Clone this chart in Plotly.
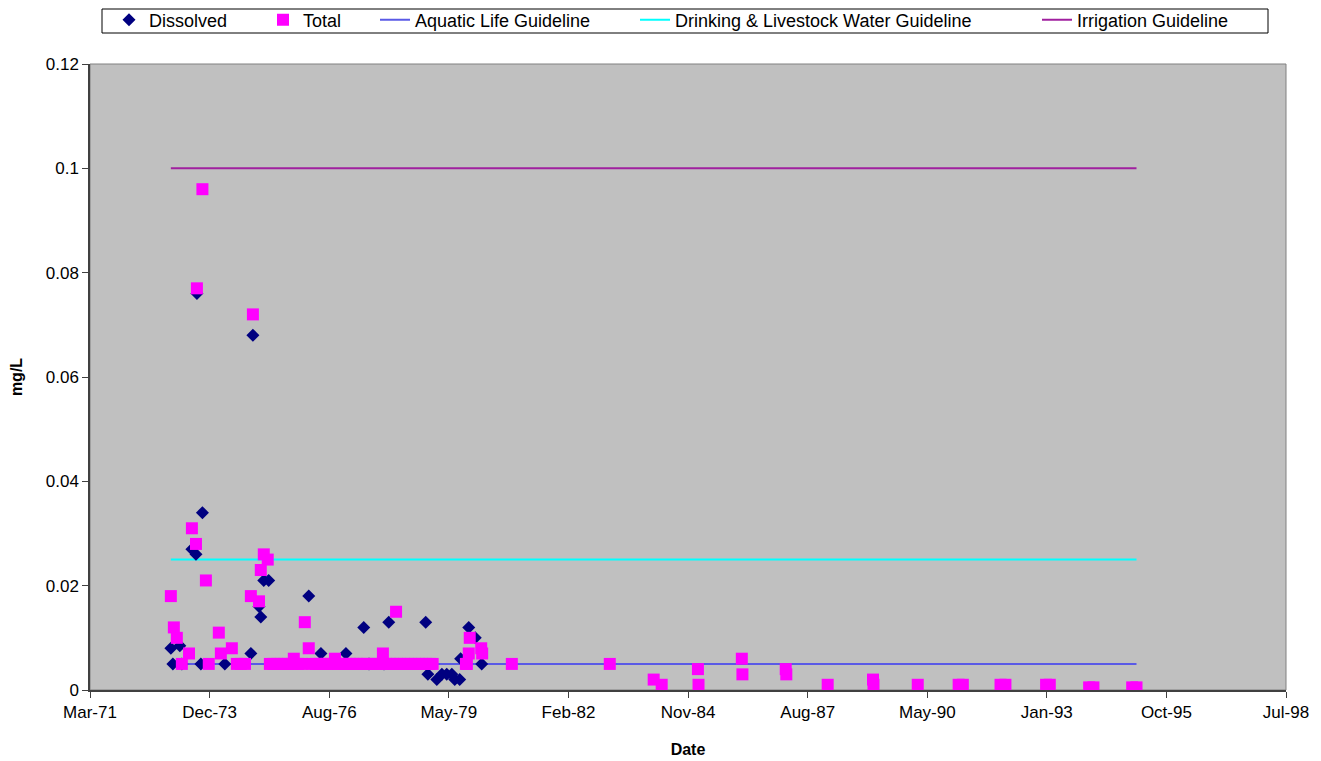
import plotly.graph_objects as go

# ---------------- data ----------------
tick_dates = ["1971-03-08", "1973-12-02", "1976-08-29", "1979-05-25", "1982-02-19",
              "1984-11-15", "1987-08-12", "1990-05-08", "1993-01-31", "1995-10-28", "1998-07-24"]
tick_labels = ["Mar-71", "Dec-73", "Aug-76", "May-79", "Feb-82",
               "Nov-84", "Aug-87", "May-90", "Jan-93", "Oct-95", "Jul-98"]
y_ticks = [0, 0.02, 0.04, 0.06, 0.08, 0.1, 0.12]
y_tick_labels = ["0", "0.02", "0.04", "0.06", "0.08", "0.1", "0.12"]

dissolved_dates = ["1973-01-12", "1973-01-29", "1973-03-28", "1973-04-14", "1973-07-07",
                   "1973-08-10", "1973-08-18", "1973-09-20", "1973-10-03", "1974-04-08",
                   "1974-11-12", "1974-11-29", "1975-01-19", "1975-02-03", "1975-02-28",
                   "1975-04-10", "1976-03-10", "1976-06-20", "1977-01-15", "1977-06-13",
                   "1977-07-27", "1977-11-29", "1978-01-08", "1978-11-13", "1978-12-01",
                   "1979-02-14", "1979-03-28", "1979-05-08", "1979-06-19", "1979-07-14",
                   "1979-08-24", "1979-09-01", "1979-11-08", "1980-01-01", "1980-02-24"]
dissolved_values = [0.008, 0.005, 0.0085, 0.005, 0.027,
                    0.026, 0.076, 0.005, 0.034, 0.005,
                    0.007, 0.068, 0.016, 0.014, 0.021,
                    0.021, 0.018, 0.007, 0.007, 0.012,
                    0.005, 0.005, 0.013, 0.013, 0.003,
                    0.002, 0.003, 0.003, 0.003, 0.002,
                    0.002, 0.006, 0.012, 0.010, 0.005]

total_dates = ["1973-01-12", "1973-02-06", "1973-03-03", "1973-04-14", "1973-06-13",
               "1973-07-07", "1973-08-10", "1973-08-18", "1973-10-03", "1973-11-01",
               "1973-11-25", "1974-02-17", "1974-03-06", "1974-06-06", "1974-07-18",
               "1974-08-21", "1974-09-24", "1974-11-12", "1974-11-29", "1975-01-19",
               "1975-02-03", "1975-02-28", "1975-04-02", "1975-04-20", "1975-05-20",
               "1975-06-20", "1975-07-20", "1975-08-20", "1975-09-20", "1975-10-20",
               "1975-11-06", "1975-12-10", "1976-01-10", "1976-02-06", "1976-03-10",
               "1976-04-10", "1976-05-10", "1976-06-10", "1976-07-10", "1976-08-10",
               "1976-09-10", "1976-10-15", "1976-11-15", "1976-12-15", "1977-01-15",
               "1977-02-15", "1977-03-15", "1977-04-15", "1977-05-15", "1977-06-15",
               "1977-07-08", "1977-08-20", "1977-09-20", "1977-10-20", "1977-11-20",
               "1977-12-18", "1978-01-15", "1978-02-15", "1978-03-10", "1978-03-15",
               "1978-04-15", "1978-05-15", "1978-06-15", "1978-07-15", "1978-08-15",
               "1978-09-15", "1978-10-15", "1978-11-15", "1978-12-15", "1979-01-10",
               "1979-10-15", "1979-10-23", "1979-11-08", "1979-11-16", "1980-02-20",
               "1980-02-28", "1980-11-02", "1983-01-30", "1984-02-01", "1984-04-08",
               "1985-02-05", "1985-02-10", "1986-02-07", "1986-02-12", "1987-02-09",
               "1987-02-14", "1988-01-26", "1989-02-08", "1989-02-12", "1990-02-17",
               "1991-01-25", "1991-03-01", "1992-01-10", "1992-02-20", "1993-01-25",
               "1993-02-25", "1994-01-20", "1994-02-25", "1995-01-15", "1995-02-20"]
total_values = [0.018, 0.012, 0.010, 0.005, 0.007,
                0.031, 0.028, 0.077, 0.096, 0.021,
                0.005, 0.011, 0.007, 0.008, 0.005,
                0.005, 0.005, 0.018, 0.072, 0.017,
                0.023, 0.026, 0.025, 0.005, 0.005,
                0.005, 0.005, 0.005, 0.005, 0.005,
                0.006, 0.005, 0.005, 0.013, 0.008,
                0.005, 0.005, 0.005, 0.005, 0.005,
                0.005, 0.006, 0.005, 0.005, 0.005,
                0.005, 0.005, 0.005, 0.005, 0.005,
                0.005, 0.005, 0.005, 0.005, 0.007,
                0.005, 0.005, 0.005, 0.015, 0.005,
                0.005, 0.005, 0.005, 0.005, 0.005,
                0.005, 0.005, 0.005, 0.005, 0.005,
                0.005, 0.005, 0.007, 0.010, 0.008,
                0.007, 0.005, 0.005, 0.002, 0.001,
                0.004, 0.001, 0.006, 0.003, 0.004,
                0.003, 0.001, 0.002, 0.001, 0.001,
                0.001, 0.001, 0.001, 0.001, 0.001,
                0.001, 0.0005, 0.0005, 0.0005, 0.0005]

guideline_dates = ["1973-01-12", "1995-02-20"]
aquatic_life = [0.005, 0.005]
drinking_livestock = [0.025, 0.025]
irrigation = [0.1, 0.1]

# ---------------- figure ----------------
FONT = "Liberation Sans, Arial, sans-serif"
fig = go.Figure()

fig.add_trace(go.Scatter(x=guideline_dates, y=aquatic_life, mode="lines",
                         name="Aquatic Life Guideline", line=dict(color="#5A5AE6", width=2),
                         legend="legend3"))
fig.add_trace(go.Scatter(x=guideline_dates, y=drinking_livestock, mode="lines",
                         name="Drinking & Livestock Water Guideline",
                         line=dict(color="#00FFFF", width=2), legend="legend4"))
fig.add_trace(go.Scatter(x=guideline_dates, y=irrigation, mode="lines",
                         name="Irrigation Guideline", line=dict(color="#A0209F", width=2),
                         legend="legend5"))
fig.add_trace(go.Scatter(x=dissolved_dates, y=dissolved_values, mode="markers",
                         name="Dissolved",
                         marker=dict(symbol="diamond", size=10, color="#000080", line=dict(width=0)),
                         legend="legend"))
fig.add_trace(go.Scatter(x=total_dates, y=total_values, mode="markers",
                         name="Total",
                         marker=dict(symbol="square", size=12, color="#FF00FF", line=dict(width=0)),
                         legend="legend2"))

# page body adds an 8px offset; target plot box in window pixels: x 90..1286, y 64..690
OFF = 8
W, H = 1321 - OFF, 761 - OFF
L, T = 90 - OFF, 64 - OFF
R, B = W - (1286 - OFF), H - (690 - OFF)
pw, ph = W - L - R, H - T - B


def px_x(p):
    return (p - OFF - L) / pw


def px_y(p):
    return 1 + (T - (p - OFF)) / ph


leg_common = dict(orientation="h", yanchor="middle", y=px_y(20), xanchor="left",
                  bgcolor="rgba(0,0,0,0)", borderwidth=0,
                  font=dict(family=FONT, size=18, color="black"))
legend_x = {"legend": 109, "legend2": 263, "legend3": 375, "legend4": 635, "legend5": 1037}
layout_legends = {k: dict(leg_common, x=px_x(v)) for k, v in legend_x.items()}

fig.update_layout(
    width=W, height=H,
    margin=dict(l=L, r=R, t=T, b=B, autoexpand=False),
    paper_bgcolor="white",
    plot_bgcolor="#C0C0C0",
    font=dict(family=FONT, size=17, color="black"),
    showlegend=True,
    **layout_legends,
    xaxis=dict(
        type="date",
        range=[tick_dates[0], tick_dates[-1]],
        tickmode="array", tickvals=tick_dates, ticktext=tick_labels,
        ticks="outside", ticklen=6, tickcolor="#404040", tickwidth=1,
        showline=True, linecolor="#404040", linewidth=2,
        showgrid=False, zeroline=False,
        tickfont=dict(family=FONT, size=17, color="black"),
        title=dict(text="<b>Date</b>", font=dict(family=FONT, size=16, color="black"), standoff=22),
    ),
    yaxis=dict(
        range=[0, 0.12],
        tickmode="array", tickvals=y_ticks, ticktext=y_tick_labels,
        ticks="outside", ticklen=6, tickcolor="#404040", tickwidth=1,
        showline=True, linecolor="#404040", linewidth=1.5,
        showgrid=False, zeroline=False,
        tickfont=dict(family=FONT, size=17, color="black"),
        title=dict(text="<b>mg/L</b>", font=dict(family=FONT, size=16, color="black"), standoff=22),
    ),
    shapes=[
        dict(type="rect", xref="paper", yref="paper", x0=0, x1=1, y0=0, y1=1,
             line=dict(color="#808080", width=1), fillcolor="rgba(0,0,0,0)", layer="below"),
        dict(type="rect", xref="paper", yref="paper",
             x0=px_x(102), x1=px_x(1268), y0=px_y(33), y1=px_y(9),
             line=dict(color="black", width=1), fillcolor="rgba(0,0,0,0)"),
    ],
)

fig.write_html("out.html")
